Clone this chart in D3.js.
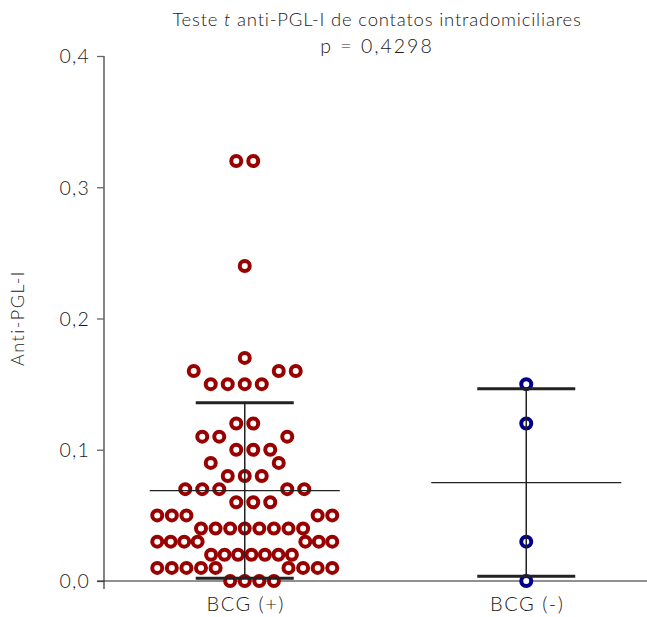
<!DOCTYPE html>
<html><head><meta charset="utf-8">
<script src="https://cdn.jsdelivr.net/npm/d3@7"></script>
<style>
html,body{margin:0;padding:0;background:#fff;}
svg{display:block;}
text{font-family:"Lato","Open Sans",sans-serif;font-weight:300;fill:#1a1a1a;}
</style></head>
<body><svg id="chart" width="647" height="617"></svg>
<script>
// ---- data ----
const groups = ["BCG (+)", "BCG (-)"];
const bcgPos = [0.00,0.00,0.00,0.01,0.00,0.01,0.01,0.01,0.01,0.01,0.01,0.01,0.01,
  0.02,0.02,0.02,0.02,0.02,0.02,0.03,0.02,0.03,0.03,0.03,0.03,0.03,0.03,
  0.04,0.04,0.04,0.04,0.04,0.04,0.04,0.05,0.04,0.05,0.05,0.05,0.05,
  0.06,0.06,0.07,0.06,0.07,0.07,0.07,0.07,
  0.08,0.08,0.08,0.09,0.09,
  0.10,0.10,0.11,0.10,0.11,0.11,
  0.12,0.12,
  0.15,0.15,0.15,0.15,0.16,0.16,0.16,
  0.17,0.24,0.32,0.32];
const bcgNeg = [0.15,0.12,0.03,0.00];
const yTicks = [0, 0.1, 0.2, 0.3, 0.4];
const colors = ["#990000", "#00008b"];
const titleLine2 = "p = 0,4298";

const series = [bcgPos, bcgNeg];
const W = 647, H = 617;
const svg = d3.select("#chart");
const y = d3.scaleLinear().domain([0, 0.4]).range([581, 56]);
const x = d3.scaleBand().domain(groups).range([104, 667]).padding(0);
const fmt = v => d3.format(".1f")(v).replace(".", ",");

// y axis
const yAxis = d3.axisLeft(y).tickValues(yTicks).tickFormat(fmt).tickSize(7).tickSizeOuter(0);
const gy = svg.append("g").attr("transform", "translate(104,0)").call(yAxis);
gy.select(".domain").remove();
gy.selectAll(".tick line").attr("stroke", "#666").attr("stroke-width", 1.3);
gy.selectAll(".tick text").attr("x", -14).attr("dy", "0.35em")
  .style("font-size", "19.5px").style("letter-spacing", "1.2px").attr("fill", "#1a1a1a");
svg.append("line").attr("x1", 104).attr("x2", 104).attr("y1", y(0.4)).attr("y2", y(0) + 8)
  .attr("stroke", "#666").attr("stroke-width", 1.6);
// x axis line
svg.append("line").attr("x1", 97).attr("x2", W).attr("y1", y(0)).attr("y2", y(0))
  .attr("stroke", "#222").attr("stroke-width", 1.1);

// beeswarm layout: band points whose pixel distance < marker size; slots center-out
const markerR = 5, markerSW = 4, band = 2 * (markerR + markerSW / 2) + 2;
const maxSpan = 175, baseGap = 17;
function layout(vals) {
  const idx = vals.map((v, i) => i).sort((a, b) => vals[a] - vals[b] || a - b);
  const bands = [];
  let cur = null;
  idx.forEach(i => {
    if (!cur || y(vals[cur.start]) - y(vals[i]) >= band) { cur = {start: i, items: []}; bands.push(cur); }
    cur.items.push(i);
  });
  const pts = [];
  bands.forEach(b => {
    const items = b.items.slice().sort((a, c) => a - c); // data order within band
    const n = items.length;
    const gap = n > 1 ? Math.min(baseGap, maxSpan / (n - 1)) : 0;
    const slots = d3.range(n).map(k => k - (n - 1) / 2)
      .sort((a, c) => Math.abs(a) - Math.abs(c) || a - c);
    items.forEach((i, k) => pts.push({v: vals[i], dx: slots[k] * gap}));
  });
  return pts;
}

series.forEach((vals, gi) => {
  const cx = x(groups[gi]) + x.bandwidth() / 2;
  const pts = layout(vals);
  svg.append("g").selectAll("circle").data(pts).join("circle")
    .attr("cx", d => cx + d.dx).attr("cy", d => y(d.v)).attr("r", markerR)
    .attr("fill", "#fff").attr("stroke", colors[gi]).attr("stroke-width", markerSW);
});

series.forEach((vals, gi) => {
  const cx = x(groups[gi]) + x.bandwidth() / 2;
  const m = d3.mean(vals), sd = d3.deviation(vals);
  const g = svg.append("g").attr("stroke", "#222");
  g.append("line").attr("x1", cx).attr("x2", cx).attr("y1", y(m + sd)).attr("y2", y(m - sd)).attr("stroke-width", 1.5);
  [m + sd, m - sd].forEach(v => g.append("line").attr("x1", cx - 49).attr("x2", cx + 49)
    .attr("y1", y(v)).attr("y2", y(v)).attr("stroke-width", 3));
  g.append("line").attr("x1", cx - 95).attr("x2", cx + 95).attr("y1", y(m)).attr("y2", y(m)).attr("stroke-width", 1.3);
  svg.append("text").attr("x", cx + 1).attr("y", 611).attr("text-anchor", "middle")
    .style("font-size", "20px").style("letter-spacing", "1.5px").text(groups[gi]);
});

// titles
const t1 = svg.append("text").attr("x", 377).attr("y", 26).attr("text-anchor", "middle")
  .style("font-size", "18.5px").style("letter-spacing", "0.8px");
t1.append("tspan").text("Teste ");
t1.append("tspan").style("font-style", "italic").text("t");
t1.append("tspan").text(" anti-PGL-I de contatos intradomiciliares");
svg.append("text").attr("x", 377).attr("y", 53).attr("text-anchor", "middle")
  .style("font-size", "19.5px").style("letter-spacing", "2px").text(titleLine2);
svg.append("text").attr("transform", "translate(24,318) rotate(-90)").attr("text-anchor", "middle")
  .style("font-size", "18px").style("letter-spacing", "1.5px").text("Anti-PGL-I");
</script></body></html>
